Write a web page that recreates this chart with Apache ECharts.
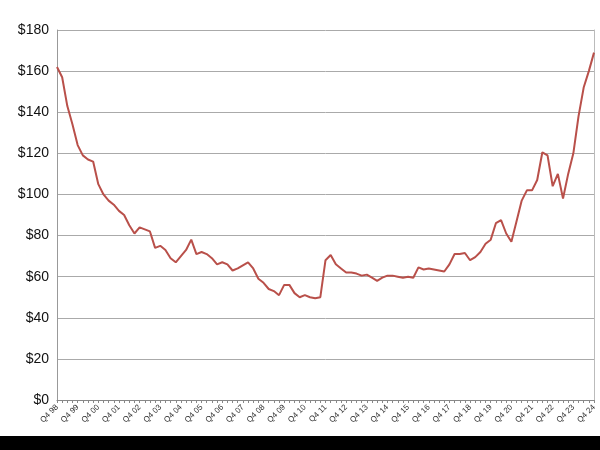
<!DOCTYPE html>
<html>
<head>
<meta charset="UTF-8">
<style>body{margin:0;background:#fff}#c{width:600px;height:450px}#bar{position:absolute;left:0;top:436px;width:600px;height:14px;background:#000}</style>
</head>
<body>
<div id="c"></div>
<div id="bar"></div>
<script src="https://cdn.jsdelivr.net/npm/echarts@6/dist/echarts.min.js"></script>
<script>
var years = ['98','99','00','01','02','03','04','05','06','07','08','09','10','11','12','13','14','15','16','17','18','19','20','21','22','23','24'];
var quarters = ['Q4 98'];
years.slice(1).forEach(function (y) {
  ['Q1','Q2','Q3','Q4'].forEach(function (q) { quarters.push(q + ' ' + y); });
});
var values = [
  162,
  157, 143, 134, 124,
  119, 117, 116, 105,
  100, 97, 95, 92,
  90, 85, 81, 84,
  83, 82, 74, 75,
  73, 69, 67, 70,
  73, 78, 71, 72,
  71, 69, 66, 67,
  66, 63, 64, 65.5,
  67, 64, 59, 57,
  54, 53, 51, 56,
  56, 52, 50, 51,
  50, 49.5, 50, 68,
  70.5, 66, 64, 62,
  62, 61.5, 60.5, 61,
  59.5, 58, 59.5, 60.5,
  60.5, 60, 59.5, 60,
  59.5, 64.5, 63.5, 64,
  63.5, 63, 62.5, 66,
  71, 71, 71.5, 68,
  69.5, 72, 76, 78,
  86, 87.5, 81, 77,
  87, 97, 102, 102,
  107, 120.5, 119, 104,
  110, 98, 110, 120,
  138, 152, 160, 169
];
var chart = echarts.init(document.getElementById('c'));
chart.setOption({
  animation: false,
  grid: { left: 57, right: 6, top: 30, bottom: 50 },
  xAxis: {
    type: 'category',
    data: quarters,
    boundaryGap: false,
    axisLine: { lineStyle: { color: '#888' } },
    axisTick: { interval: 0, length: 3, lineStyle: { color: '#888' } },
    axisLabel: { interval: 3, rotate: 45, fontSize: 8, color: '#333', fontFamily: 'Liberation Sans', margin: 6 }
  },
  yAxis: [{
    type: 'value', min: 0, max: 180, interval: 20,
    axisLine: { show: true, lineStyle: { color: '#999' } },
    axisTick: { show: false },
    splitLine: { lineStyle: { color: '#aaa', width: 1 } },
    axisLabel: { formatter: '${value}', fontSize: 14, color: '#111', fontFamily: 'Liberation Sans', margin: 8 }
  }, {
    type: 'value', min: 0, max: 180, interval: 20, position: 'right',
    axisLine: { show: true, lineStyle: { color: '#bbb' } },
    axisTick: { show: false }, axisLabel: { show: false }, splitLine: { show: false }
  }],
  series: [{
    type: 'line',
    data: values,
    showSymbol: false,
    lineStyle: { color: '#b9504a', width: 2 }
  }]
});
</script>
</body>
</html>
